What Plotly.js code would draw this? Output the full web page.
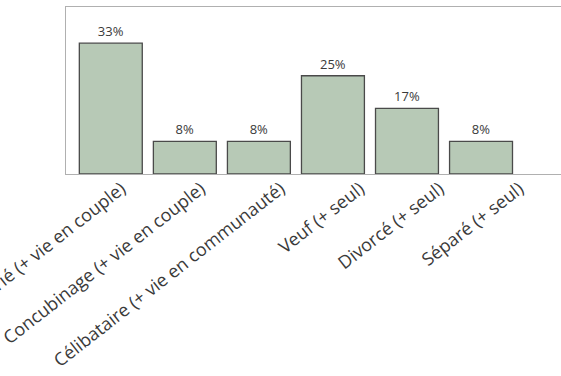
<!DOCTYPE html>
<html><head><meta charset="utf-8">
<script src="https://cdn.plot.ly/plotly-3.0.1.min.js"></script>
<style>html,body{margin:0;padding:0;background:#fff;}#c{width:561px;height:376px;}</style>
</head><body><div id="c"></div>
<script>
const categories = ["Marié (+ vie en couple)", "Concubinage (+ vie en couple)", "Célibataire (+ vie en communauté)", "Veuf (+ seul)", "Divorcé (+ seul)", "Séparé (+ seul)"];
const values = [33.3, 8.3, 8.3, 25.0, 16.7, 8.3];
const labels = ["33%", "8%", "8%", "25%", "17%", "8%"];

Plotly.newPlot("c", [{
  type: "bar",
  x: categories,
  y: values,
  text: labels,
  textposition: "outside",
  cliponaxis: false,
  textfont: {family: "Open Sans, sans-serif", size: 13, color: "#3a3a3a"},
  marker: {color: "#b7c9b6", line: {color: "#4a4a4a", width: 1.3}},
  width: 0.85,
  hoverinfo: "none"
}, {
  type: "scatter",
  mode: "markers",
  x: categories,
  y: values,
  xaxis: "x2",
  marker: {opacity: 0},
  hoverinfo: "none"
}], {
  width: 561, height: 376,
  margin: {l: 66, r: 0, t: 7, b: 202},
  paper_bgcolor: "#fff", plot_bgcolor: "#fff",
  showlegend: false,
  xaxis: {
    range: [-0.605, 6.08],
    showticklabels: false,
    showline: true, linecolor: "#b0b0b0", linewidth: 1, mirror: true,
    ticks: "", automargin: false, showgrid: false
  },
  xaxis2: {
    overlaying: "x", anchor: "y", side: "bottom",
    range: [-0.356, 5.863],
    tickangle: -38,
    tickfont: {family: "Open Sans, sans-serif", size: 18, color: "#3a3a3a"},
    ticklabelshift: 27,
    ticklabelstandoff: 0,
    showline: false, ticks: "", automargin: false, showgrid: false, zeroline: false
  },
  yaxis: {
    range: [0, 42.5],
    showline: true, linecolor: "#b0b0b0", linewidth: 1,
    showticklabels: false, ticks: "", showgrid: false, zeroline: false, automargin: false
  }
}, {staticPlot: true});
</script></body></html>
